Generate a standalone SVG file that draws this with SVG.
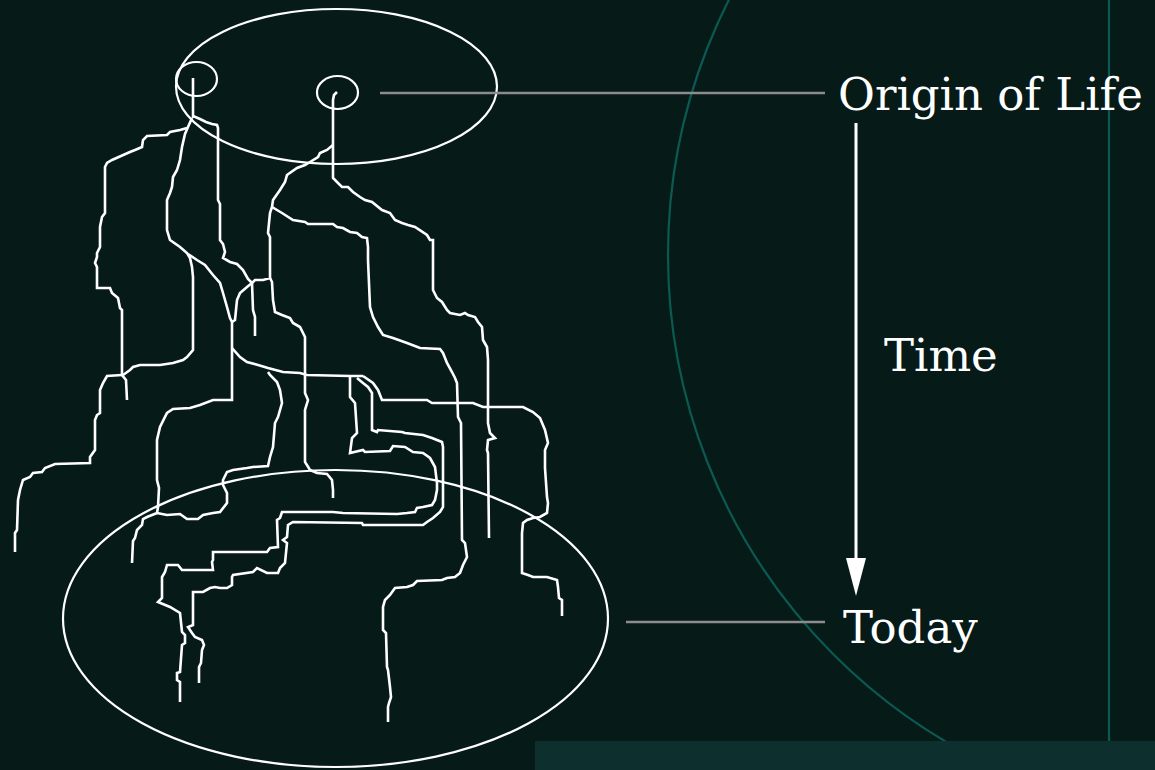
<svg xmlns="http://www.w3.org/2000/svg" width="1155" height="770" viewBox="0 0 1155 770">
<style>
.bg{fill:#061a18}
.deco{fill:none;stroke:#0b5a52;stroke-width:2.2}
.ring{fill:none;stroke:#ffffff;stroke-width:2.2}
.lin{fill:none;stroke:#ffffff;stroke-width:2.6}
.lead{fill:none;stroke:#8c8c8c;stroke-width:2.5}
.lbl{font-family:"DejaVu Serif","Liberation Serif",serif;font-size:45px;fill:#ffffff}
.head{fill:#ffffff}
</style>
<rect class="bg" x="0" y="0" width="1155" height="770"/>
<g id="decor">
<circle class="deco" cx="1233" cy="255" r="565"/>
<line class="deco" x1="1109" y1="0" x2="1109" y2="741"/>
<rect x="535" y="741" width="620" height="29" fill="#0d302e"/>
</g>
<g id="lineages">
<path class="lin" d="M193,78 V118"/>
<path class="lin" d="M193,116 L200,119 L206,122 L212,124 L217,125 L218,128 L218,200 L220,204 L220,240 L223,244 L225,252 L223,258 L230,262 L237,264 L243,270 L248,279 L252,283"/>
<path class="lin" d="M192,118 L188,127 L185,134 L182,147 L180,160 L177,170 L173,177 L172,187 L170,193 L167,200 L167,230 L170,240 L180,247 L187,253 L190,258 L192,267 L193,277 L193,350 L187,357 L183,360 L173,363 L160,365 L140,365 L133,367 L130,370 L123,375"/>
<path class="lin" d="M188,254 L197,260 L205,265 L213,275 L220,283 L223,293 L227,307 L230,318 L232,322 L232,400 L213,400 L200,405 L190,408 L173,409 L167,413 L160,427 L157,440 L157,480 L159,488 L158,507 L157,513 L147,517 L143,519 L142,525 L137,530 L135,538 L133,541 L132,563"/>
<path class="lin" d="M157,513 L167,515 L180,514 L187,519 L198,519 L203,515 L213,513 L220,512 L227,503 L227,493 L223,485 L223,480 L227,472 L233,470 L247,468 L253,467 L268,466 L270,457 L273,447 L275,423 L278,417 L282,403 L280,390 L277,382 L270,375 L268,372"/>
<path class="lin" d="M232,348 L240,357 L247,362 L258,365 L268,368 L283,372 L300,373 L307,375 L350,376 L363,376"/>
<path class="lin" d="M187,128 L180,130 L170,132 L167,135 L147,136 L143,140 L142,147 L135,150 L130,152 L112,160 L107,163 L105,167 L105,213 L102,217 L100,227 L100,247 L97,253 L97,257 L95,263 L97,267 L97,288 L110,288 L112,293 L118,298 L120,308 L122,310 L122,375 L126,380 L127,400"/>
<path class="lin" d="M122,375 L107,376 L103,383 L100,390 L100,413 L97,415 L95,420 L95,450 L90,457 L90,463 L55,464 L45,468 L42,472 L33,473 L30,477 L23,480 L20,490 L18,500 L17,530 L15,533 L15,552"/>
<path class="lin" d="M337,92 L334,95 L333,100 L333,178 L337,182 L342,187 L348,187 L353,192 L360,197 L365,200 L372,202 L382,210 L390,213 L395,220 L402,223 L408,225 L415,227 L427,235 L430,240 L433,240 L433,290 L437,298 L442,302 L447,310 L450,313 L460,315 L465,313 L468,315 L475,317 L478,322 L482,327 L483,340 L487,347 L488,360 L488,423 L490,433 L495,438 L488,440 L487,450 L488,453 L489,538"/>
<path class="lin" d="M333,145 L327,150 L320,153 L318,157 L310,162 L305,165 L297,168 L287,175 L285,182 L280,190 L273,200 L272,207 L270,213 L268,233 L270,237 L270,278 L263,280 L255,280 L252,283"/>
<path class="lin" d="M270,278 L272,282 L273,300 L275,312 L282,315 L290,318 L293,323 L300,327 L305,337 L305,393 L308,400 L305,410 L305,462 L310,470 L317,473 L327,474 L332,480 L333,490 L333,498"/>
<path class="lin" d="M272,207 L282,213 L293,220 L305,222 L308,224 L333,224 L337,227 L343,228 L350,232 L357,233 L362,237 L367,238 L368,247 L368,260 L370,307 L373,317 L378,327 L383,335 L393,338 L407,343 L420,348 L440,349 L443,353 L447,363 L452,372 L455,378 L457,383 L458,417 L461,423 L462,540 L465,543 L467,557 L463,565 L460,573 L455,577 L447,578 L442,580 L417,581 L413,585 L407,587 L395,588 L390,595 L385,600 L383,607 L383,630 L386,633 L387,667 L388,670 L390,687 L391,697 L389,703 L388,707 L388,722"/>
<path class="lin" d="M252,283 L253,310 L255,317 L255,336"/>
<path class="lin" d="M252,283 L247,287 L240,293 L237,300 L235,320 L232,322"/>
<path class="lin" d="M363,376 L373,383 L378,390 L382,400 L427,400 L432,403 L473,403 L483,407 L523,407 L533,412 L540,418 L545,430 L548,443 L545,450 L545,468 L547,497 L548,503 L547,513 L540,517 L533,518 L527,520 L523,523 L522,533 L522,573 L528,575 L533,577 L547,577 L557,580 L558,587 L559,598 L562,600 L562,616"/>
<path class="lin" d="M350,376 L350,397 L355,403 L357,433 L352,438 L350,453 L363,450 L365,452 L390,451 L393,446 L405,447 L413,452 L423,453 L430,458 L435,467 L437,483 L437,490 L435,500 L432,505 L423,507 L417,508 L415,512 L407,513 L397,514 L343,513 L333,512 L282,512 L280,518 L277,520 L278,547 L270,548 L267,552 L213,552 L213,560 L212,562 L213,570 L182,570 L178,565 L167,565 L165,572 L162,577 L162,598 L158,602 L170,607 L180,613 L182,632 L185,635 L185,643 L182,645 L180,672 L177,673 L177,680 L180,682 L180,702"/>
<path class="lin" d="M357,378 L363,383 L368,387 L372,393 L372,430 L377,432 L378,430 L402,432 L405,433 L423,435 L432,438 L442,442 L443,447 L443,507 L440,512 L433,518 L427,522 L423,525 L363,525 L362,523 L293,522 L288,525 L287,537 L283,540 L287,543 L285,563 L280,568 L278,573 L267,573 L257,568 L253,572 L233,575 L232,577 L232,585 L227,588 L220,588 L215,587 L210,588 L203,592 L193,592 L193,625 L188,627 L192,633 L195,637 L202,640 L204,645 L202,650 L201,663 L199,667 L199,683"/>
</g>
<g id="origin-region">
<ellipse class="ring" cx="336.5" cy="86.5" rx="160.5" ry="77.5"/>
</g>
<g id="origin-a">
<ellipse class="ring" cx="196.5" cy="79" rx="20.5" ry="17"/>
</g>
<g id="origin-b">
<ellipse class="ring" cx="337.5" cy="92.5" rx="20.5" ry="16.5"/>
</g>
<g id="today-region">
<ellipse class="ring" cx="335.5" cy="618.5" rx="272.5" ry="148.5"/>
</g>
<g id="label-origin">
<text class="lbl" x="838" y="110">Origin of Life</text>
</g>
<g id="label-time">
<text class="lbl" x="884" y="371">Time</text>
</g>
<g id="label-today">
<text class="lbl" x="843" y="643">Today</text>
</g>
<g id="connectors">
<line class="lead" x1="380" y1="93" x2="825" y2="93"/>
<line class="lead" x1="626" y1="622" x2="825" y2="622"/>
<line x1="856" y1="123" x2="856" y2="562" stroke="#ffffff" stroke-width="3"/>
<polygon class="head" points="846,558 866,558 856,596"/>
</g>
</svg>
